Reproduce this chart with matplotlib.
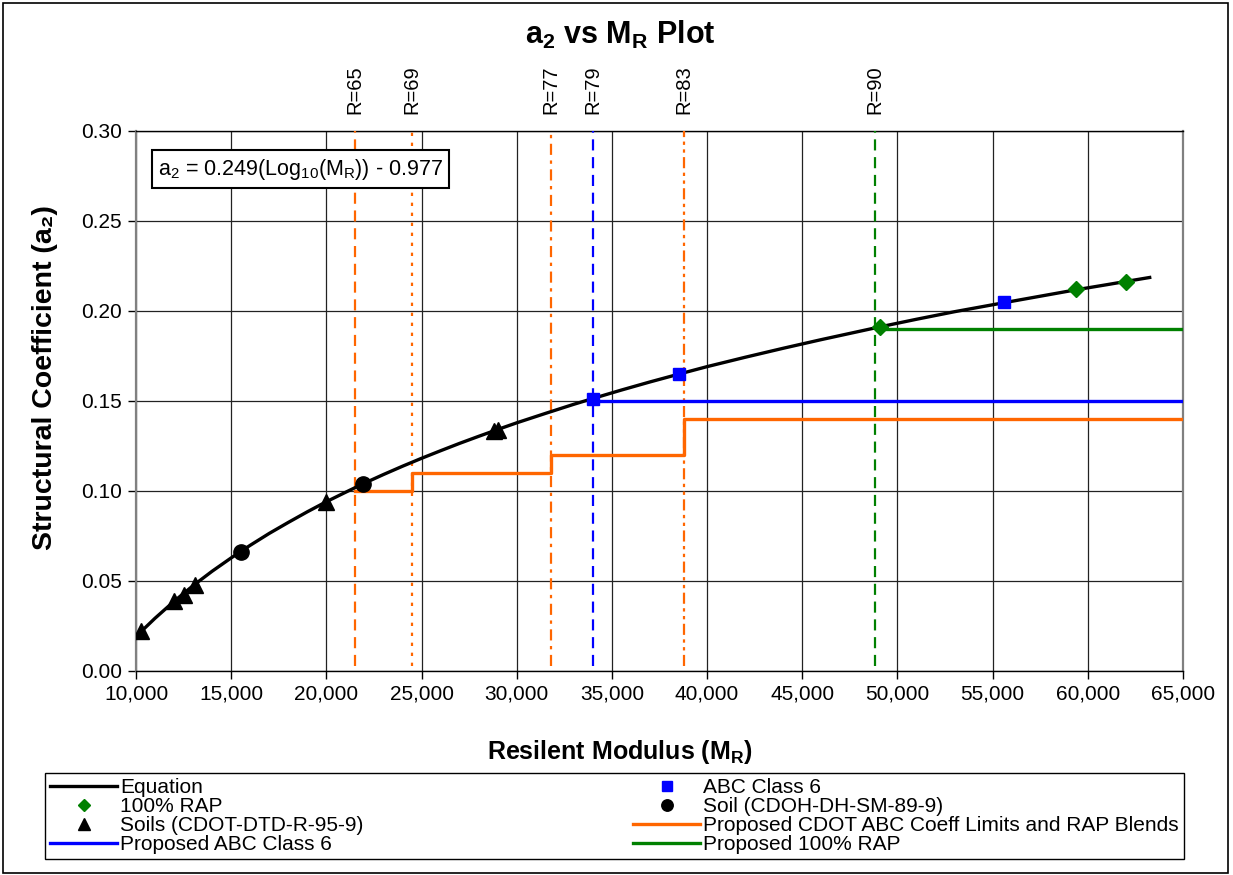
import matplotlib
matplotlib.use('Agg')
import matplotlib.pyplot as plt
from matplotlib.patches import Rectangle
from matplotlib.transforms import blended_transform_factory

plt.rcParams['font.family'] = ['Liberation Sans', 'DejaVu Sans']
plt.rcParams['mathtext.fontset'] = 'custom'
plt.rcParams['mathtext.rm'] = 'Liberation Sans'
plt.rcParams['mathtext.bf'] = 'Liberation Sans:bold'
plt.rcParams['mathtext.it'] = 'Liberation Sans:italic'

ORANGE = '#FF6600'
BLUE = '#0000FF'
GREEN = '#008000'

# equation curve
eq_x = [10250, 11000, 12000, 13000, 14000, 15000, 16000, 17000, 18000, 19000,
        20000, 21000, 22000, 23000, 24000, 25000, 26000, 27000, 28000, 29000,
        30000, 31500, 33000, 34000, 35500, 37000, 38500, 40000, 42000, 44000,
        46000, 48000, 49000, 51000, 53000, 55600, 57500, 59400, 61000, 62000, 63250]
eq_y = [0.0217, 0.0293, 0.0387, 0.0474, 0.0554, 0.0628, 0.0698, 0.0764, 0.0825, 0.0884,
        0.0940, 0.0992, 0.1043, 0.1091, 0.1137, 0.1181, 0.1223, 0.1264, 0.1303, 0.1341,
        0.1378, 0.1430, 0.1481, 0.1513, 0.1560, 0.1605, 0.1648, 0.1690, 0.1742, 0.1792,
        0.1840, 0.1886, 0.1909, 0.1953, 0.1995, 0.2045, 0.2081, 0.2117, 0.2145, 0.2163, 0.2185]

# point series
rap_x = [49100, 59400, 62000]
rap_y = [0.191, 0.212, 0.216]
abc_x = [34000, 38500, 55600]
abc_y = [0.151, 0.165, 0.205]
soil_x = [15500, 21900]
soil_y = [0.066, 0.104]
soils_x = [10250, 12000, 12500, 13100, 20000, 28800, 29000]
soils_y = [0.022, 0.039, 0.042, 0.048, 0.094, 0.133, 0.134]

# proposed limits
cdot_x = [21500, 24500, 24500, 31800, 31800, 38800, 38800, 65000]
cdot_y = [0.10, 0.10, 0.11, 0.11, 0.12, 0.12, 0.14, 0.14]
abc6_x = [34000, 65000]
abc6_y = [0.15, 0.15]
rap100_x = [49100, 65000]
rap100_y = [0.19, 0.19]

# R-value markers
r_labels = ['R=65', 'R=69', 'R=77', 'R=79', 'R=83', 'R=90']
r_x = [21500, 24500, 31800, 34000, 38800, 48800]
r_colors = [ORANGE, ORANGE, ORANGE, BLUE, ORANGE, GREEN]
r_dashes = [(5, 3), (1.5, 3), (5, 2.5, 1.5, 2.5), (5, 3), (5, 2, 1.5, 2, 1.5, 2), (5, 3)]

fig = plt.figure(figsize=(12.33, 8.75), dpi=100)
ax = fig.add_axes([136 / 1233, 1 - 671 / 875, 1047 / 1233, 540.3 / 875])

for x, c, d in zip(r_x, r_colors, r_dashes):
    ax.plot([x, x], [0.003, 0.30], color=c, lw=1.6, dashes=d, zorder=3)

h_cdot, = ax.plot(cdot_x, cdot_y, color=ORANGE, lw=2.4, zorder=4,
                  label='Proposed CDOT ABC Coeff Limits and RAP Blends')
h_abc6, = ax.plot(abc6_x, abc6_y, color=BLUE, lw=2.4, zorder=4, label='Proposed ABC Class 6')
h_rap100, = ax.plot(rap100_x, rap100_y, color=GREEN, lw=2.4, zorder=4, label='Proposed 100% RAP')
h_eq, = ax.plot(eq_x, eq_y, color='black', lw=2.4, zorder=5, label='Equation')
h_rap, = ax.plot(rap_x, rap_y, ls='none', marker='D', ms=8.5, color=GREEN, zorder=6, label='100% RAP')
h_abc, = ax.plot(abc_x, abc_y, ls='none', marker='s', ms=9, color=BLUE, zorder=6, label='ABC Class 6')
h_soil, = ax.plot(soil_x, soil_y, ls='none', marker='o', ms=11, color='black', zorder=6,
                  label='Soil (CDOH-DH-SM-89-9)')
h_soils, = ax.plot(soils_x, soils_y, ls='none', marker='^', ms=12, color='black', zorder=6,
                   label='Soils (CDOT-DTD-R-95-9)')

ax.set_xlim(10000, 65000)
ax.set_ylim(0, 0.30)
ax.set_xticks(range(10000, 65001, 5000))
ax.set_xticklabels([f'{v:,}' for v in range(10000, 65001, 5000)])
ax.set_yticks([0, 0.05, 0.10, 0.15, 0.20, 0.25, 0.30])
ax.set_yticklabels(['0.00', '0.05', '0.10', '0.15', '0.20', '0.25', '0.30'])
ax.tick_params(labelsize=15, direction='out', length=6, width=1, color='black', pad=4)
ax.grid(True, color='#222222', lw=0.9, zorder=0)
ax.set_axisbelow(True)
for s in ['left', 'right']:
    ax.spines[s].set_color('#808080')
    ax.spines[s].set_linewidth(1.6)
for s in ['top', 'bottom']:
    ax.spines[s].set_color('black')
    ax.spines[s].set_linewidth(1)

trans = blended_transform_factory(ax.transData, ax.transAxes)
for lab, x in zip(r_labels, r_x):
    ax.annotate(lab, xy=(x, 1.0), xycoords=trans, xytext=(0, 12), textcoords='offset points',
                rotation=90, ha='center', va='bottom', fontsize=14.5)

ax.text(0.021, 0.929, r'a$_2$ = 0.249(Log$_{10}$(M$_\mathrm{R}$)) - 0.977', transform=ax.transAxes,
        fontsize=15.5, ha='left', va='center', zorder=10,
        bbox=dict(boxstyle='square,pad=0.3', fc='white', ec='black', lw=1.5))

fig.text(0.503, 1 - 35 / 875, r'a$_\mathbf{2}$ vs M$_\mathbf{R}$ Plot', ha='center', va='center',
         fontsize=22, fontweight='bold')
fig.text(0.503, 1 - 752 / 875, r'Resilent Modulus (M$_\mathbf{R}$)', ha='center', va='center',
         fontsize=18, fontweight='bold')
fig.text(45 / 1233, 1 - 378 / 875, 'Structural Coefficient (a\u2082)', ha='center', va='center',
         rotation=90, fontsize=20.5, fontweight='bold')

handles = [h_eq, h_rap, h_soils, h_abc6, h_abc, h_soil, h_cdot, h_rap100]
leg = fig.legend(handles=handles, labels=[h.get_label() for h in handles], ncol=2,
                 loc='upper left', bbox_to_anchor=(45 / 1233, 1 - 773 / 875, 1139 / 1233, 0),
                 bbox_transform=fig.transFigure, mode='expand', borderaxespad=0,
                 fontsize=15, fancybox=False, framealpha=1, edgecolor='black',
                 borderpad=0.25, labelspacing=0.0, handlelength=3.2, handletextpad=0.15,
                 numpoints=1, markerscale=0.75)
leg.get_frame().set_linewidth(1)

fig.patches.append(Rectangle((3 / 1233, 2 / 875), 1225 / 1233, 870 / 875, transform=fig.transFigure,
                             fill=False, ec='black', lw=1.2))

fig.savefig('out.png', dpi=100)
